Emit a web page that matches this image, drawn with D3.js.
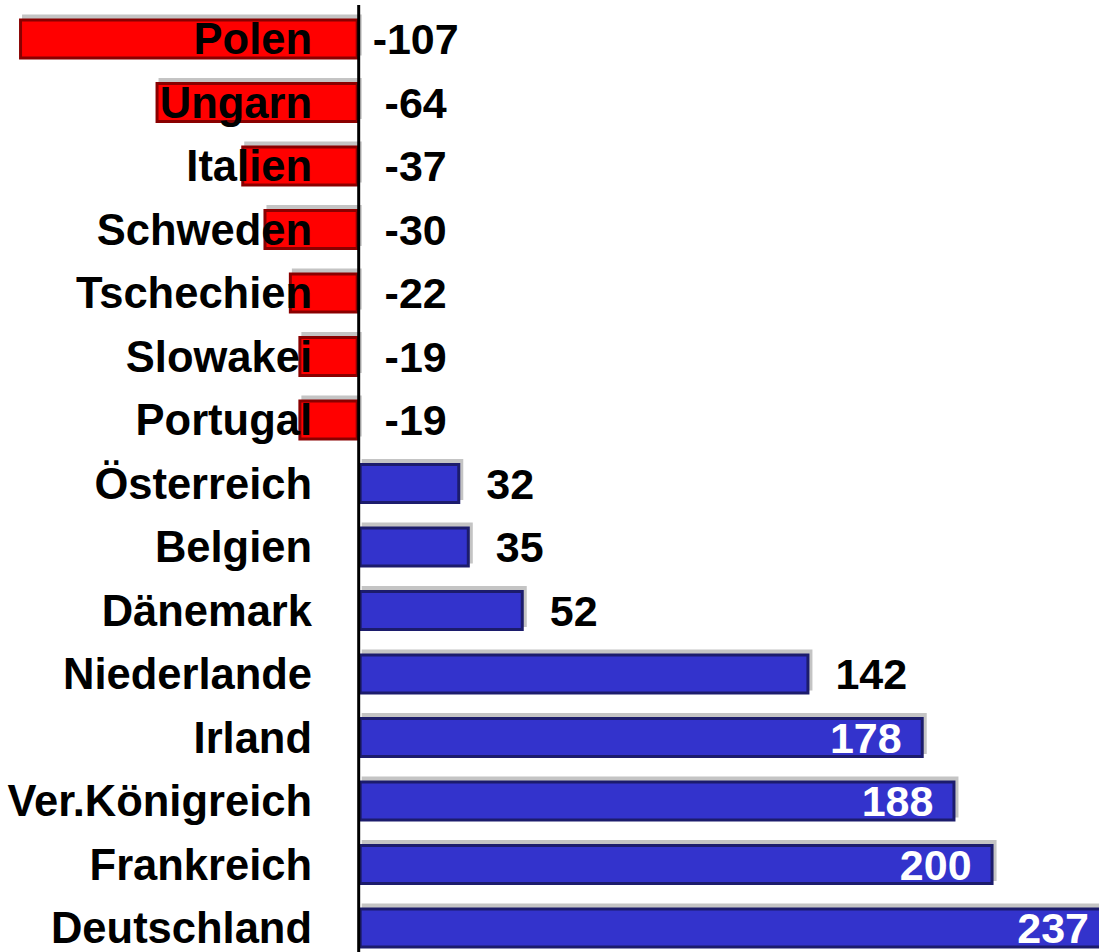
<!DOCTYPE html>
<html>
<head>
<meta charset="utf-8">
<script src="https://cdn.jsdelivr.net/npm/d3@7"></script>
<style>
  html, body { margin: 0; padding: 0; background: #ffffff; }
  svg { display: block; }
</style>
</head>
<body>
<div id="chart"></div>
<script>
const countries = ["Polen", "Ungarn", "Italien", "Schweden", "Tschechien", "Slowakei", "Portugal",
  "Österreich", "Belgien", "Dänemark", "Niederlande", "Irland", "Ver.Königreich", "Frankreich", "Deutschland"];
const values = [-107, -64, -37, -30, -22, -19, -19, 32, 35, 52, 142, 178, 188, 200, 237];
const insideLabelMin = 150;

const data = countries.map((c, i) => ({ country: c, value: values[i] }));

const W = 1099, H = 952;
const svg = d3.select("#chart").append("svg").attr("width", W).attr("height", H);

const x = d3.scaleLinear().domain([-113, 237]).range([0, 1111]);
const y = d3.scalePoint().domain(countries).range([7.25, 959.75]).padding(0.5);
const barH = 41;
const fontFamily = "'Liberation Sans', Arial, sans-serif";

const g = svg.append("g");

// shadows
g.selectAll("rect.shadow").data(data).enter().append("rect")
  .attr("class", "shadow")
  .attr("x", d => Math.min(x(0), x(d.value)) + 3)
  .attr("y", d => y(d.country) - barH / 2 - 4)
  .attr("width", d => Math.abs(x(d.value) - x(0)))
  .attr("height", barH)
  .attr("fill", "#c4c4c4");

// bars
g.selectAll("rect.bar").data(data).enter().append("rect")
  .attr("class", "bar")
  .attr("x", d => Math.min(x(0), x(d.value)) + 1.5)
  .attr("y", d => y(d.country) - barH / 2 + 1.5)
  .attr("width", d => Math.abs(x(d.value) - x(0)) - 3)
  .attr("height", barH - 3)
  .attr("fill", d => d.value < 0 ? "#ff0000" : "#3333cc")
  .attr("stroke", d => d.value < 0 ? "#8a0000" : "#1c1c6c")
  .attr("stroke-width", 3);

// axis line
svg.append("line")
  .attr("x1", x(0)).attr("x2", x(0))
  .attr("y1", 5).attr("y2", H)
  .attr("stroke", "#000").attr("stroke-width", 3);

// country labels
g.selectAll("text.country").data(data).enter().append("text")
  .attr("class", "country")
  .attr("x", 312)
  .attr("y", d => y(d.country) + 15)
  .attr("text-anchor", "end")
  .attr("font-family", fontFamily)
  .attr("font-weight", "bold")
  .attr("font-size", 43.5)
  .attr("fill", "#000")
  .text(d => d.country);

// value labels
g.selectAll("text.value").data(data).enter().append("text")
  .attr("class", "value")
  .attr("x", d => {
    if (d.value < 0) return x(0) + 57;
    if (d.value >= insideLabelMin) return x(d.value) - 22;
    return x(d.value) + 26;
  })
  .attr("y", d => y(d.country) + 15)
  .attr("text-anchor", d => d.value < 0 ? "middle" : (d.value >= insideLabelMin ? "end" : "start"))
  .attr("font-family", fontFamily)
  .attr("font-weight", "bold")
  .attr("font-size", 43)
  .attr("fill", d => d.value >= insideLabelMin ? "#ffffff" : "#000000")
  .text(d => d.value);
</script>
</body>
</html>
